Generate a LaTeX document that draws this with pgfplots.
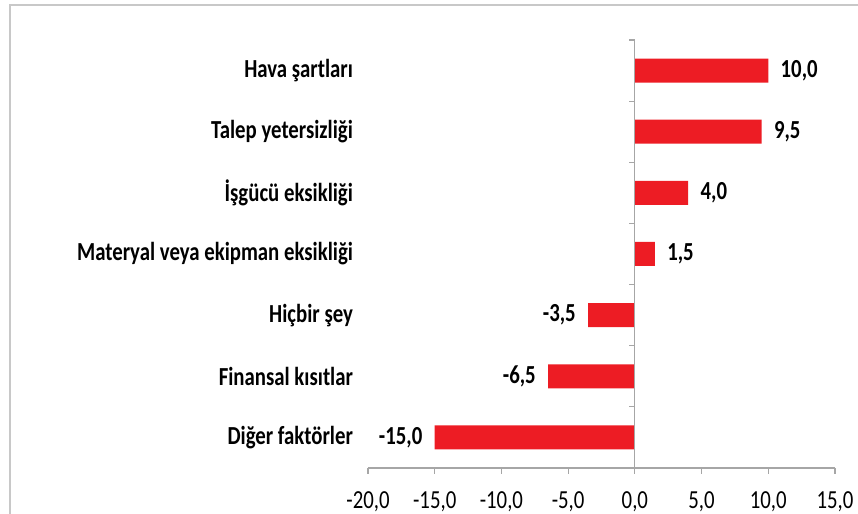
\documentclass[border=0pt]{standalone}
\usepackage{fontspec}
\setmainfont{Carlito}[FakeStretch=0.8]
\usepackage{pgfplots}
\pgfplotsset{compat=1.18}
\definecolor{barred}{HTML}{ED1C24}
\definecolor{axisgray}{HTML}{A6A6A6}
\definecolor{framegray}{HTML}{C8C8C8}

\begin{document}
\begin{tikzpicture}
% page = 858 x 514 px at 0.5pt per px
\useasboundingbox (0,0) rectangle (429pt,257pt);
\draw[framegray, line width=0.8pt] (5pt,-10pt) -- (5pt,254.5pt) -- (440pt,254.5pt);
\begin{axis}[at={(184pt,23pt)}, anchor=south west,
  scale only axis, width=233.5pt, height=214pt,
  xbar, bar width=12pt,
  xmin=-20, xmax=15, ymin=-0.5, ymax=6.5,
  axis x line*=bottom,
  y axis line style={draw=none},
  x axis line style={axisgray, line width=0.6pt},
  xtick={-20,-15,...,15},
  xtick style={axisgray, line width=0.6pt},
  tick align=outside, major tick length=3pt,
  ytick={0,...,6},
  ytick style={draw=none},
  yticklabels={Diğer faktörler, Finansal kısıtlar, Hiçbir şey,
    Materyal veya ekipman eksikliği, İşgücü eksikliği,
    Talep yetersizliği, Hava şartları},
  y tick label style={font=\fontsize{13}{15}\selectfont\bfseries, anchor=east, xshift=-1pt},
  x tick label style={font=\fontsize{13}{15}\selectfont, yshift=-5.5pt},
  xticklabel={\pgfmathprintnumber[fixed, fixed zerofill, precision=1, use comma]{\tick}},
  /pgf/number format/assume math mode=true,
  nodes near coords,
  nodes near coords align={horizontal},
  every node near coord/.append style={font=\fontsize{13}{15}\selectfont\bfseries, black, inner xsep=6pt,
    /pgf/number format/.cd, fixed, fixed zerofill, precision=1, use comma},
  clip=false]
\addplot[fill=barred, draw=none] coordinates {
  (-15.0,0) (-6.5,1) (-3.5,2) (1.5,3) (4.0,4) (9.5,5) (10.0,6)};
\draw[axisgray, line width=0.6pt] (axis cs:0,-0.5) -- (axis cs:0,6.5);
\pgfplotsinvokeforeach{-0.5,0.5,1.5,2.5,3.5,4.5,5.5,6.5}{
  \draw[axisgray, line width=0.6pt] (axis cs:0,#1) -- ([xshift=-3pt]axis cs:0,#1);
}
\end{axis}
\end{tikzpicture}
\end{document}
